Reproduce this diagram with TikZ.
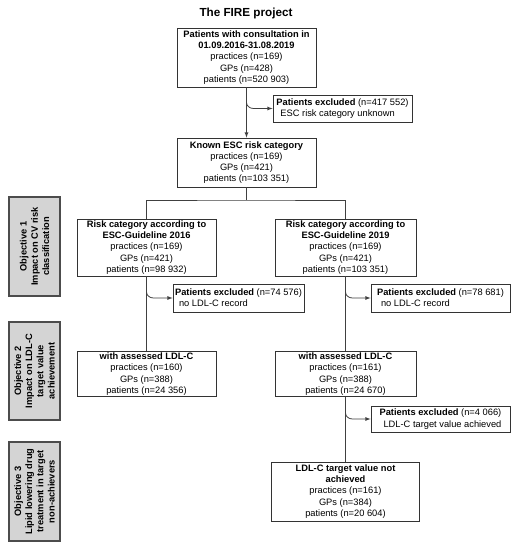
\documentclass[tikz,border=0pt]{standalone}
\usepackage{fontspec}
\setmainfont{Liberation Sans}
\usetikzlibrary{positioning, arrows}
\newcommand\flowfont{\fontsize{9.3}{11.2}\selectfont}

\begin{document}
\begin{tikzpicture}[x=1pt,y=1pt,>=latex,
  box/.style={draw=black!80, line width=0.8pt, align=center, inner sep=1pt, font=\flowfont, minimum width=139pt},
  exclbox/.style={draw=black!80, line width=0.8pt, align=left, inner sep=2pt, font=\flowfont, minimum width=139pt, minimum height=27pt},
  objbox/.style={draw=black!70, fill=black!17, line width=1.2pt, align=center, rotate=90, font=\flowfont\bfseries, minimum width=99pt, minimum height=51pt, inner sep=1pt},
  link/.style={draw=black!75, line width=0.8pt}]
\useasboundingbox[fill=white] (0,0) rectangle (523,550);

\node[font=\fontsize{11.7}{14}\selectfont\bfseries] (title) at (246,537) {The FIRE project};

% main column
\node[box, minimum height=59pt] (start) at (246.5,492.5) {\textbf{Patients with consultation in}\\ \textbf{01.09.2016-31.08.2019}\\ practices (n=169)\\ GPs (n=428)\\ patients (n=520 903)};
\node[exclbox] (excl1) at (342.5,441.5) {\textbf{Patients excluded} (n=417 552)\\ \hspace{4pt}ESC risk category unknown};
\node[box, minimum height=49pt] (known) at (246.5,387.5) {\textbf{Known ESC risk category}\\ practices (n=169)\\ GPs (n=421)\\ patients (n=103 351)};
\coordinate (split) at (246.5,350);

% objective 1
\node[box, minimum height=57pt] (g2016) at (146.5,302.5) {\textbf{Risk category according to}\\ \textbf{ESC-Guideline 2016}\\ practices (n=169)\\ GPs (n=421)\\ patients (n=98 932)};
\node[box, minimum width=141pt, minimum height=57pt] (g2019) at (345.5,302.5) {\textbf{Risk category according to}\\ \textbf{ESC-Guideline 2019}\\ practices (n=169)\\ GPs (n=421)\\ patients (n=103 351)};
\node[exclbox, minimum width=129pt, minimum height=28pt] (exl2016) at (238.5,252) {\textbf{Patients excluded} (n=74 576)\\ \hspace{4pt}no LDL-C record};
\node[exclbox, minimum height=28pt] (exl2019) at (440.5,252) {\textbf{Patients excluded} (n=78 681)\\ \hspace{4pt}no LDL-C record};

% objective 2
\node[box, minimum height=44pt] (ldl2016) at (146.5,176) {\textbf{with assessed LDL-C}\\ practices (n=160)\\ GPs (n=388)\\ patients (n=24 356)};
\node[box, minimum width=141pt, minimum height=44pt] (ldl2019) at (345.5,176) {\textbf{with assessed LDL-C}\\ practices (n=161)\\ GPs (n=388)\\ patients (n=24 670)};
\node[exclbox, minimum height=26pt] (exlach) at (440.5,131) {\textbf{Patients excluded} (n=4 066)\\ \hspace{4pt}LDL-C target value achieved};

% objective 3
\node[box, minimum width=148pt, minimum height=59pt] (notach) at (345.5,58.5) {\textbf{LDL-C target value not}\\ \textbf{achieved}\\ practices (n=161)\\ GPs (n=384)\\ patients (n=20 604)};

% side labels
\node[objbox] (obj1) at (34.5,303.5) {Objective 1\\ Impact on CV risk\\ classification};
\node[objbox, minimum width=98pt] (obj2) at (34.5,179) {Objective 2\\ Impact on LDL-C\\ target value\\ achievement};
\node[objbox] (obj3) at (34.5,58.5) {Objective 3\\ Lipid lowering drug\\ treatment in target\\ non-achievers};

% connectors
\draw[link,->] (start) -- (known);
\draw[link] (known) -- (split);
\draw[link] (g2016.north) |- (split) -| (g2019.north);
\draw[link] (g2016) -- (ldl2016);
\draw[link] (g2019) -- (ldl2019);
\draw[link] (ldl2019) -- (notach);

% exclusions
\coordinate (j1) at (start.south |- excl1.west);
\coordinate (j2) at (g2016.south |- exl2016.west);
\coordinate (j3) at (g2019.south |- exl2019.west);
\coordinate (j4) at (ldl2019.south |- exlach.west);
\foreach \j/\e in {j1/excl1, j2/exl2016, j3/exl2019, j4/exlach}
  \draw[link,->] ([yshift=6pt]\j) to[out=-90,in=180] ([xshift=7pt]\j) -- (\e.west);

\end{tikzpicture}
\end{document}
